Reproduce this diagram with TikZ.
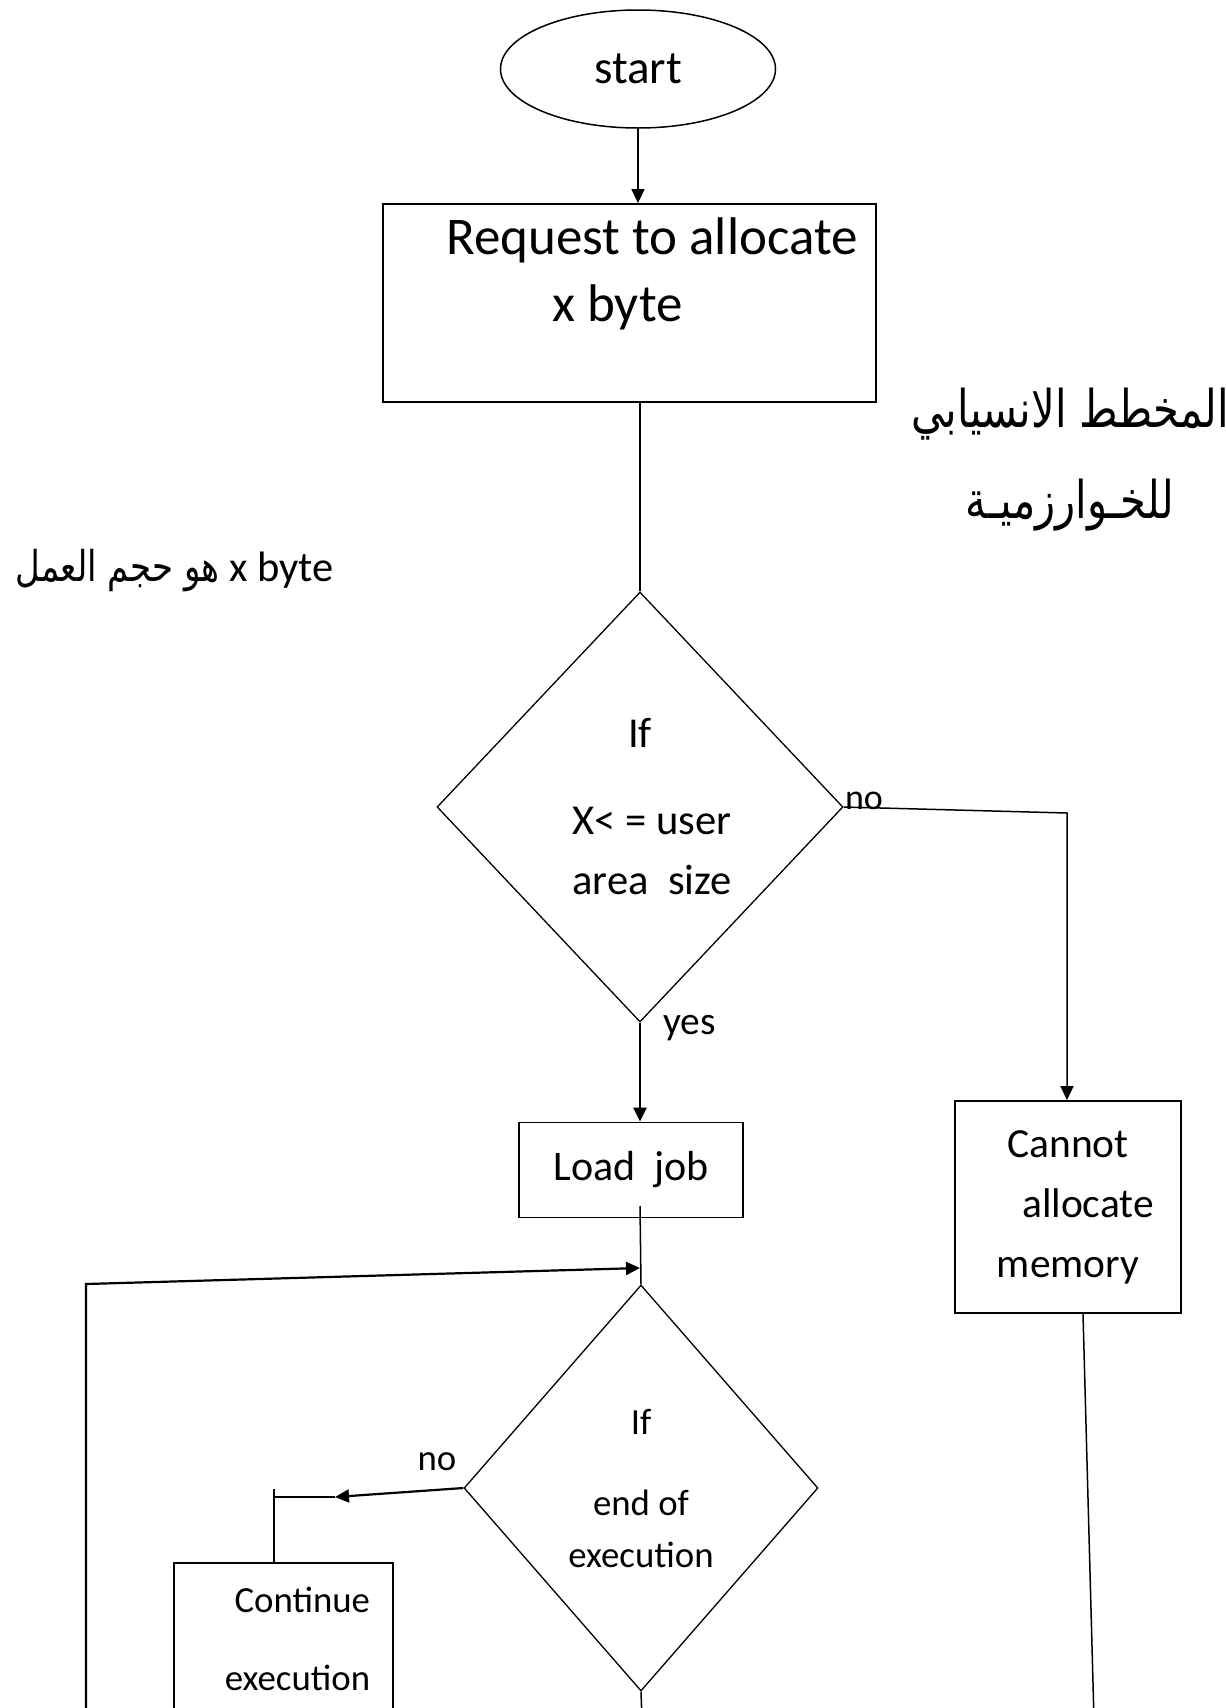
\documentclass[tikz,border=0pt]{standalone}
\usepackage{fontspec}
\setmainfont{Carlito}
\newfontfamily\arabicfont[Script=Arabic]{DejaVu Sans}
\TeXXeTstate=1
\usetikzlibrary{arrows.meta,shapes.geometric}

\begin{document}
\begin{tikzpicture}[x=0.5pt, y=-0.5pt, ->, >={Triangle[length=7pt,width=6.5pt]}, line width=0.75pt,
  box/.style={rectangle, draw, line width=0.9pt, inner sep=0pt},
  decision/.style={diamond, draw, line width=0.65pt, inner sep=0pt, align=center}]
\useasboundingbox[-] (0,0) rectangle (1226,1708);
\clip[-] (0,0) rectangle (1226,1708);

\node (start) [ellipse, draw, minimum width=137.5pt, minimum height=59pt, inner sep=0pt, font=\fontsize{23.5}{28}\selectfont] at (638,69) {start};
\node (req) [box, minimum width=246.5pt, minimum height=99pt,
  label={[align=left, font=\fontsize{26.5}{33.5}\selectfont, xshift=11.25pt, yshift=14.75pt]center:{Request to allocate\\\hspace*{53pt}x byte}}] at (629.5,303) {};
\node (title) [align=center, font=\arabicfont\fontsize{26}{45.5}\selectfont] at (1070,460)
  {\scalebox{0.8}[1]{\beginR المخطط الانسيابي\endR}\\\scalebox{0.8}[1]{\beginR للخـوارزميـة\endR}};
\node (note) [anchor=west, font=\fontsize{21.25}{25}\selectfont] at (8,571)
  {\scalebox{0.8}[1]{\arabicfont\beginR هو حجم العمل\endR} x byte};

\node (ifsize) [decision, minimum width=203pt, minimum height=215pt, font=\fontsize{21.3}{30}\selectfont] at (640,807)
  {If\\[13.5pt]\hspace*{12pt}X< = user\\\hspace*{12pt}area\ \ size};
\node (sizeno) [font=\fontsize{18}{22}\selectfont] at (864,801) {no};
\node (sizeyes) [anchor=west, font=\fontsize{19.75}{24}\selectfont] at (656,1028) {yes};
\coordinate (nobend) at (1067,813);

\node (load) [box, minimum width=112pt, minimum height=47.5pt, font=\fontsize{21}{25}\selectfont] at (631,1170) {Load\ \ job};
\coordinate (loadout) at (640,1206);
\node (cannot) [box, minimum width=113pt, minimum height=106pt, align=center, font=\fontsize{20.75}{30}\selectfont] at (1068,1207)
  {Cannot\\\hspace*{20pt}allocate\\memory};

\node (check) [decision, minimum width=177pt, minimum height=203pt, font=\fontsize{18.4}{26}\selectfont] at (641,1488) {If\\[14.5pt]end of\\execution};
\node (checkno) [font=\fontsize{18.4}{22}\selectfont] at (437,1462) {no};
\coordinate (notip) at (335,1497);
\coordinate (nobend2) at (274,1497);
\node (cont) [box, minimum width=109.5pt, minimum height=76pt,
  label={[align=right, font=\fontsize{18.4}{39}\selectfont, xshift=7pt]center:{Continue\\execution}}] at (283.5,1639) {};

\coordinate (loopfoot) at (86,1720);
\coordinate (loopcorner) at (86,1284);
\coordinate (loopin) at (640,1268);
\coordinate (checkfoot) at (642,1720);
\coordinate (cannotfoot) at (1094,1720);

\draw (start.south) -- (start.south |- req.north);
\draw[-] (ifsize.north |- req.south) -- (ifsize.north);
\draw (ifsize.east) -- (nobend) -- (nobend |- cannot.north);
\draw[line width=1.3pt] (ifsize.south) -- (ifsize.south |- load.north);
\draw[-] (loadout) -- (check.north);
\draw[line width=1.1pt] (loopfoot) -- (loopcorner) -- (loopin);
\draw[line width=1.1pt] (check.west) -- (notip);
\draw[-] (notip) -- (nobend2);
\draw[-] ([yshift=4pt]nobend2) -- (nobend2 |- cont.north);
\draw[-] (check.south) -- (checkfoot);
\draw[-] ([xshift=7.5pt]cannot.south) -- (cannotfoot);
\end{tikzpicture}
\end{document}
